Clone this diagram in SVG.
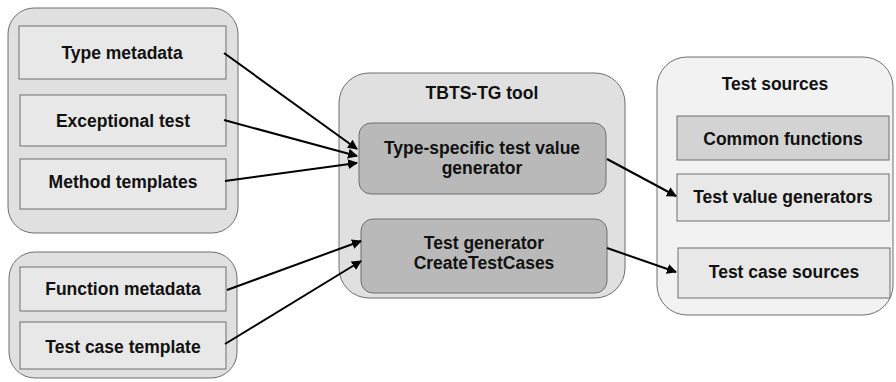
<svg xmlns="http://www.w3.org/2000/svg" width="896" height="382" viewBox="0 0 896 382">
<style>
.cont{fill:#e0e0e0;stroke:#6e6e6e;stroke-width:1}
.light{fill:#f2f2f2;stroke:#6e6e6e;stroke-width:1}
.box{fill:#e8e8e8;stroke:#6e6e6e;stroke-width:1}
.dark{fill:#b9b9b9;stroke:#6e6e6e;stroke-width:1}
.mid{fill:#d3d3d3;stroke:#6e6e6e;stroke-width:1}
text{font-family:"Liberation Sans",Arial,sans-serif;font-weight:bold;font-size:17.5px;fill:#111;text-anchor:middle}
.conn line{stroke:#000;stroke-width:2;marker-end:url(#ah)}
</style>
<defs>
<marker id="ah" viewBox="0 0 10 10" refX="9" refY="5" markerWidth="5" markerHeight="5" orient="auto" markerUnits="strokeWidth">
<path d="M0,0 L10,5 L0,10 z" fill="#000"/>
</marker>
</defs>
<rect width="896" height="382" fill="#fff"/>
<g id="left-top">
<rect class="cont" x="8" y="8" width="230" height="225" rx="26"/>
</g>
<g id="type-metadata"><rect class="box" x="19" y="26" width="207" height="53"/><text x="122" y="59">Type metadata</text></g>
<g id="exceptional-test"><rect class="box" x="20" y="95" width="206" height="51"/><text x="123" y="127">Exceptional test</text></g>
<g id="method-templates"><rect class="box" x="20" y="159" width="206" height="50"/><text x="123" y="188">Method templates</text></g>
<g id="left-bottom">
<rect class="cont" x="9" y="252" width="228" height="126" rx="26"/>
</g>
<g id="function-metadata"><rect class="box" x="20" y="267" width="206" height="44"/><text x="123" y="295">Function metadata</text></g>
<g id="test-case-template"><rect class="box" x="20" y="322" width="206" height="47"/><text x="123" y="353">Test case template</text></g>
<g id="tbts-tg-tool">
<rect class="cont" x="339" y="73" width="286" height="225" rx="30"/>
<text x="482" y="99">TBTS-TG tool</text>
</g>
<g id="type-specific"><rect class="dark" x="359" y="123" width="247" height="71" rx="12"/><text x="482" y="154">Type-specific test value</text><text x="482" y="174">generator</text></g>
<g id="test-generator"><rect class="dark" x="361" y="219" width="246" height="74" rx="12"/><text x="484" y="249">Test generator</text><text x="484" y="269">CreateTestCases</text></g>
<g id="test-sources">
<rect class="light" x="657" y="57" width="236" height="258" rx="30"/>
<text x="775" y="90">Test sources</text>
</g>
<g id="common-functions"><rect class="mid" x="677" y="116" width="212" height="44"/><text x="783" y="145">Common functions</text></g>
<g id="test-value-generators"><rect class="box" x="677" y="174" width="212" height="47"/><text x="783" y="203">Test value generators</text></g>
<g id="test-case-sources"><rect class="box" x="678" y="248" width="212" height="50"/><text x="784" y="278">Test case sources</text></g>
<g class="conn" id="connectors">
<line x1="224" y1="53" x2="357" y2="149"/>
<line x1="224" y1="120" x2="357" y2="156"/>
<line x1="225" y1="181" x2="357" y2="163"/>
<line x1="227" y1="290" x2="361" y2="241"/>
<line x1="225" y1="344" x2="361" y2="261"/>
<line x1="607" y1="159" x2="676" y2="196"/>
<line x1="607" y1="248" x2="676" y2="272"/>
</g>
</svg>
